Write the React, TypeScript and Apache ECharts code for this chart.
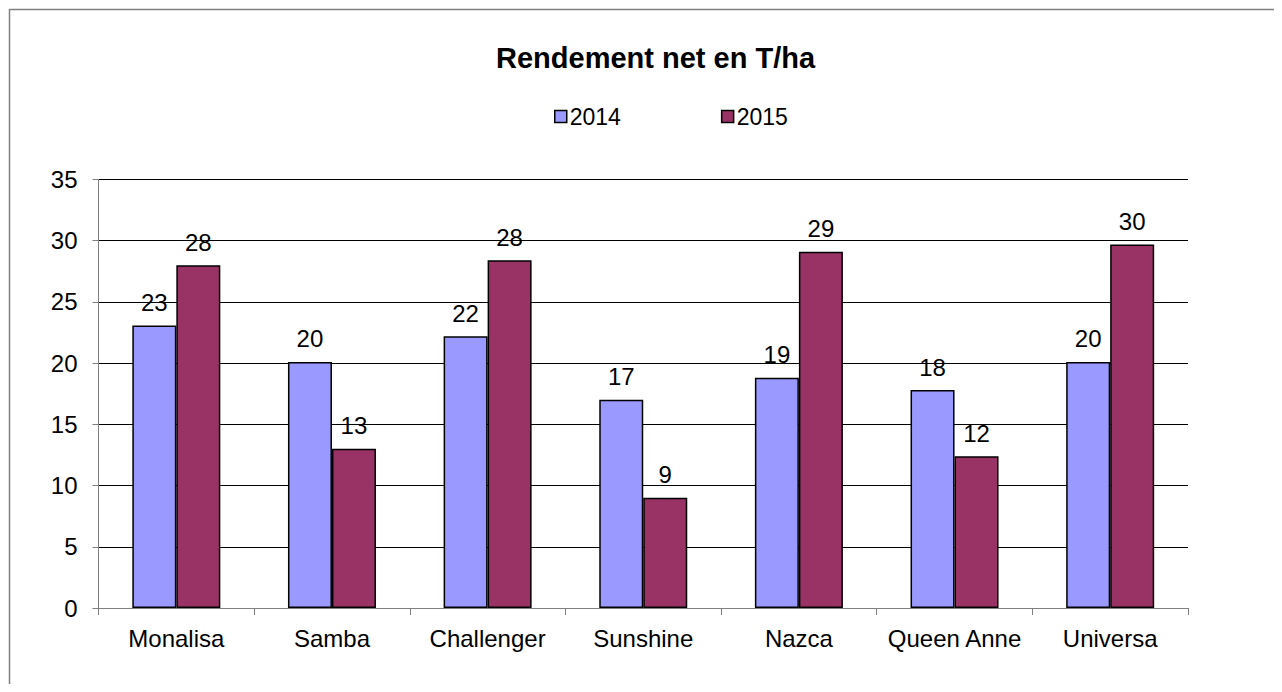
import React, { useEffect, useRef } from "react";
import * as echarts from "echarts";

const categories = ["Monalisa", "Samba", "Challenger", "Sunshine", "Nazca", "Queen Anne", "Universa"];
const values2014 = [23.07, 20.1, 22.2, 17.0, 18.8, 17.8, 20.1];
const values2015 = [28.0, 13.0, 28.4, 9.0, 29.1, 12.4, 29.7];
const seriesNames = ["2014", "2015"];
const titleText = "Rendement net en T/ha";

const FONT = "'Liberation Sans', Arial, sans-serif";

export default function App() {
  const ref = useRef<HTMLDivElement>(null);
  useEffect(() => {
    if (!ref.current) return;
    const chart = echarts.init(ref.current, null, { renderer: "svg" });
    const label = {
      show: true,
      position: "top",
      distance: 11,
      color: "#000",
      fontSize: 24,
      fontFamily: FONT,
      formatter: (p: any) => String(Math.round(p.value)),
    };
    chart.setOption({
      animation: false,
      backgroundColor: "#fff",
      title: {
        text: titleText,
        left: 483,
        top: 30,
        textStyle: { fontSize: 29, fontWeight: "bold", color: "#000", fontFamily: FONT },
      },
      legend: {
        data: [
          { name: seriesNames[0], itemStyle: { color: "#9999FF", borderColor: "#000", borderWidth: 1.5 } },
          { name: seriesNames[1], itemStyle: { color: "#993366", borderColor: "#000", borderWidth: 1.5 } },
        ],
        left: 541,
        top: 92,
        itemWidth: 12,
        itemHeight: 12,
        itemGap: 100,
        icon: "rect",
        textStyle: { fontSize: 23, color: "#000", fontFamily: FONT, padding: [0, 0, 0, -2] },
      },
      graphic: [
        {
          type: "rect",
          shape: { x: 1.5, y: 1.5, width: 1400, height: 1400 },
          style: { fill: "none", stroke: "#808080", lineWidth: 1.5 },
          silent: true,
        },
      ],
      grid: { left: 90.5, right: 86, top: 171.5, bottom: 76, containLabel: false },
      xAxis: {
        type: "category",
        data: categories,
        axisLine: { lineStyle: { color: "#808080", width: 1 } },
        axisTick: { show: true, length: 7, lineStyle: { color: "#808080" } },
        axisLabel: { fontSize: 24, color: "#000", fontFamily: FONT, margin: 18, interval: 0 },
      },
      yAxis: {
        type: "value",
        min: 0,
        max: 35,
        interval: 5,
        axisLine: { show: true, lineStyle: { color: "#808080", width: 1 } },
        axisTick: { show: true, length: 6, lineStyle: { color: "#808080" } },
        axisLabel: { fontSize: 24, color: "#000", fontFamily: FONT, margin: 21 },
        splitLine: { show: true, lineStyle: { color: "#000", width: 1 } },
      },
      series: [
        {
          name: seriesNames[0],
          type: "bar",
          data: values2014,
          barWidth: 44,
          barGap: "0%",
          itemStyle: { color: "#9999FF", borderColor: "#000", borderWidth: 1.5 },
          label,
        },
        {
          name: seriesNames[1],
          type: "bar",
          data: values2015,
          barWidth: 44,
          barGap: "0%",
          itemStyle: { color: "#993366", borderColor: "#000", borderWidth: 1.5 },
          label,
        },
      ],
    });
    return () => chart.dispose();
  }, []);
  return <div ref={ref} style={{ width: 1266, height: 676 }} />;
}
